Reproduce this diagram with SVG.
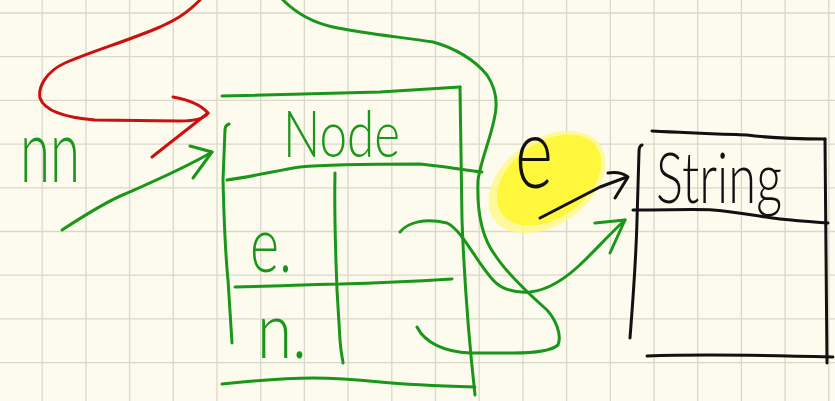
<svg xmlns="http://www.w3.org/2000/svg" width="835" height="401" viewBox="0 0 835 401">
<style>
.grid line{stroke:#d9d8cb;stroke-width:1.3}
.g{fill:none;stroke:#1a961a;stroke-width:3;stroke-linecap:round;stroke-linejoin:round}
.r{fill:none;stroke:#cc1010;stroke-width:3;stroke-linecap:round;stroke-linejoin:round}
.k{fill:none;stroke:#111;stroke-width:3;stroke-linecap:round;stroke-linejoin:round}
.tg{fill:#1a961a;font-family:Lato,"Liberation Sans",sans-serif;font-weight:300}
.tk{fill:#111;font-family:Lato,"Liberation Sans",sans-serif;font-weight:300}
</style>
<rect width="835" height="401" fill="#fdfbee"/>
<g class="grid">
<line x1="42.2" y1="0" x2="42.2" y2="401"/><line x1="85.9" y1="0" x2="85.9" y2="401"/><line x1="129.6" y1="0" x2="129.6" y2="401"/><line x1="173.3" y1="0" x2="173.3" y2="401"/><line x1="217" y1="0" x2="217" y2="401"/><line x1="260.7" y1="0" x2="260.7" y2="401"/><line x1="304.4" y1="0" x2="304.4" y2="401"/><line x1="348.1" y1="0" x2="348.1" y2="401"/><line x1="391.8" y1="0" x2="391.8" y2="401"/><line x1="435.5" y1="0" x2="435.5" y2="401"/><line x1="479.2" y1="0" x2="479.2" y2="401"/><line x1="522.9" y1="0" x2="522.9" y2="401"/><line x1="566.6" y1="0" x2="566.6" y2="401"/><line x1="610.3" y1="0" x2="610.3" y2="401"/><line x1="654" y1="0" x2="654" y2="401"/><line x1="697.7" y1="0" x2="697.7" y2="401"/><line x1="741.4" y1="0" x2="741.4" y2="401"/><line x1="785.1" y1="0" x2="785.1" y2="401"/><line x1="828.8" y1="0" x2="828.8" y2="401"/>
<line x1="0" y1="13" x2="835" y2="13"/><line x1="0" y1="56.7" x2="835" y2="56.7"/><line x1="0" y1="100.4" x2="835" y2="100.4"/><line x1="0" y1="144.1" x2="835" y2="144.1"/><line x1="0" y1="187.8" x2="835" y2="187.8"/><line x1="0" y1="231.5" x2="835" y2="231.5"/><line x1="0" y1="275.2" x2="835" y2="275.2"/><line x1="0" y1="318.9" x2="835" y2="318.9"/><line x1="0" y1="362.6" x2="835" y2="362.6"/>
</g>
<g id="highlight">
<ellipse cx="547" cy="182" rx="65" ry="43" transform="rotate(-35 547 182)" fill="#fff98a" opacity="0.8"/>
<ellipse cx="549" cy="180" rx="58" ry="38" transform="rotate(-35 549 180)" fill="#fff73c"/>
</g>
<g id="node-Node">
<path class="g" d="M222,96 C280,95 330,93 380,92 L460,87"/>
<path class="g" d="M460,87 C461,150 462,200 462,220 C465,300 470,350 475,395"/>
<path class="g" d="M227,180 C250,177 280,170 300,167 C330,164 370,164 420,164 L437,166 C455,168 470,171 482,172"/>
<path class="g" d="M229,124 C226,125 225,127 225,130 L223,180 C224,220 226,260 228,280 L232,343"/>
<path class="g" d="M335,173 C334,220 336,260 337,290 L340,340 C341,355 343,360 343,363"/>
<path class="g" d="M235,287 C280,286 320,284 340,284 C380,283 420,281 452,279"/>
<path class="g" d="M222,384 C260,380 290,378 313,378 C340,378 360,380 380,382 C410,385 440,386 475,387"/>
<text class="tg" x="283" y="157" font-size="66" textLength="117" lengthAdjust="spacingAndGlyphs">Node</text>
<text class="tg" x="250" y="272" font-size="78" textLength="42" lengthAdjust="spacingAndGlyphs">e.</text>
<text class="tg" x="257" y="358" font-size="78" textLength="50" lengthAdjust="spacingAndGlyphs">n.</text>
</g>
<g id="node-String">
<path class="k" d="M652,131 C690,133 720,134 747,135 C770,138 800,139 825,139"/>
<path class="k" d="M825,139 C826,220 826,300 827,363"/>
<path class="k" d="M647,356 C700,354 760,355 833,357"/>
<path class="k" d="M642,145 C639,146 639,150 639,152 L637,220 C636,260 633,300 630,338"/>
<path class="k" d="M633,210 C670,210 700,209 713,210 C740,212 760,217 780,219 C800,221 815,222 828,223"/>
<text class="tk" x="656" y="203" font-size="70" textLength="126" lengthAdjust="spacingAndGlyphs">String</text>
</g>
<g id="label-nn">
<text class="tg" x="20" y="182" font-size="88" textLength="60" lengthAdjust="spacingAndGlyphs">nn</text>
</g>
<g id="label-e">
<text class="tk" x="515" y="188" font-size="100" textLength="38" lengthAdjust="spacingAndGlyphs">e</text>
</g>
<g id="connectors">
<path class="r" d="M200,0 C185,15 175,20 160,27 C130,40 90,52 65,63 C45,72 38,88 40,98 C45,112 70,118 95,120 L180,121 C195,121 205,118 208,113"/>
<path class="r" d="M173,97 C190,100 202,106 208,113 L152,157"/>
<path class="g" d="M62,230 C85,215 110,200 125,194 C150,183 185,168 212,152"/>
<path class="g" d="M190,146 L212,152 L193,178"/>
<path class="g" d="M400,232 C408,222 425,218 447,223 C462,230 475,260 493,280 C502,290 515,293 530,292 C550,290 570,275 585,260 C600,245 612,232 625,220"/>
<path class="g" d="M595,223 L625,220 L610,253"/>
<path class="g" d="M283,0 C295,12 310,22 333,27 C360,33 400,37 433,42 C455,48 475,60 487,75 C497,90 498,105 494,120 C490,140 481,160 478,180 C477,205 480,235 495,255 C508,275 530,295 547,310 C556,320 562,335 558,345 C550,352 530,353 513,353 L470,353 C445,352 425,343 417,327"/>
<path class="k" d="M540,218 L600,187 L627,177"/>
<path class="k" d="M608,173 C615,172 623,173 628,177 L615,198"/>
</g>
</svg>
